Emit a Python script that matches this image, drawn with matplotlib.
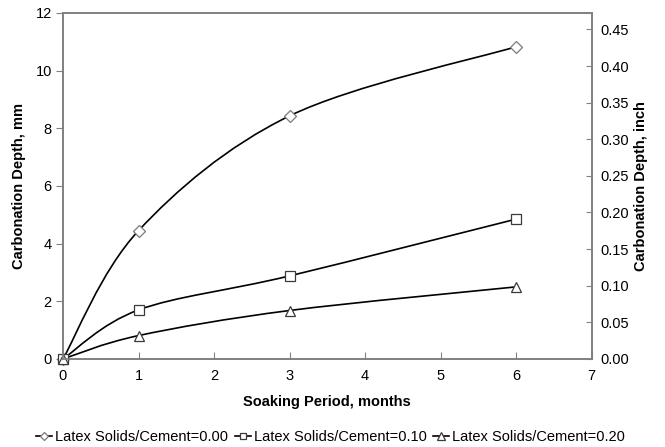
import matplotlib.pyplot as plt
from matplotlib.path import Path
from matplotlib.patches import PathPatch
from matplotlib.lines import Line2D
from matplotlib.ticker import FormatStrFormatter

plt.rcParams['font.family'] = ['Liberation Sans', 'DejaVu Sans']

months = [0, 1, 3, 6]
depth_000 = [0, 4.45, 8.43, 10.83]
depth_010 = [0, 1.70, 2.88, 4.85]
depth_020 = [0, 0.81, 1.68, 2.50]
labels = ["Latex Solids/Cement=0.00", "Latex Solids/Cement=0.10", "Latex Solids/Cement=0.20"]
markers = ["D", "s", "^"]
edge_colors = ["#7a7a7a", "#3a3a3a", "#3a3a3a"]
marker_sizes = [6, 6.5, 7.5]


def smooth_path(xs, ys):
    # catmull-rom style bezier through the points (like excel smoothed lines)
    pts = list(zip(xs, ys))
    n = len(pts)
    verts = [pts[0]]
    codes = [Path.MOVETO]
    for i in range(n - 1):
        p0 = pts[i - 1] if i > 0 else pts[i]
        p1 = pts[i]
        p2 = pts[i + 1]
        p3 = pts[i + 2] if i + 2 < n else pts[i + 1]
        c1 = (p1[0] + (p2[0] - p0[0]) / 6, p1[1] + (p2[1] - p0[1]) / 6)
        c2 = (p2[0] - (p3[0] - p1[0]) / 6, p2[1] - (p3[1] - p1[1]) / 6)
        verts += [c1, c2, p2]
        codes += [Path.CURVE4] * 3
    return Path(verts, codes)


fig = plt.figure(figsize=(6.65, 4.47), dpi=100)
ax = fig.add_axes([0.0947, 0.197, 0.795, 0.774])
ax2 = ax.twinx()

handles = []
for ys, lab, m, ec, ms in zip([depth_000, depth_010, depth_020], labels, markers, edge_colors, marker_sizes):
    ax.add_patch(PathPatch(smooth_path(months, ys), facecolor="none", edgecolor="black", lw=1.2, zorder=2))
    ax.plot(months, ys, linestyle="none", marker=m, markersize=ms, markerfacecolor="white",
            markeredgecolor=ec, markeredgewidth=0.9, zorder=3, clip_on=False)
    handles.append(Line2D([], [], color="black", lw=1.2, marker=m, markersize=ms - 1.5,
                          markerfacecolor="white", markeredgecolor=ec, markeredgewidth=0.9))

ax.set_xlim(0, 7)
ax.set_ylim(0, 12)
ax.set_xticks(range(0, 8))
ax.set_yticks(range(0, 13, 2))
ax2.set_ylim(0, 12 / 25.4)
ax2.set_yticks([i * 0.05 for i in range(10)])
ax2.yaxis.set_major_formatter(FormatStrFormatter("%.2f"))

for a in (ax, ax2):
    for s in a.spines.values():
        s.set_color("#808080")
        s.set_linewidth(1.2)

ax.tick_params(axis="x", direction="in", length=5, color="#808080", labelsize=10.5, pad=7)
ax.tick_params(axis="y", direction="out", length=5, color="#808080", labelsize=10.5, pad=3)
ax2.tick_params(axis="y", direction="in", length=4, color="#808080", labelsize=10.5, pad=6)

ax.set_xlabel("Soaking Period, months", fontsize=10.5, fontweight="bold", labelpad=9)
ax.set_ylabel("Carbonation Depth, mm", fontsize=10.5, fontweight="bold", labelpad=7)
ax2.set_ylabel("Carbonation Depth, inch", fontsize=10.5, fontweight="bold", labelpad=4)

fig.legend(handles, labels, loc="center", bbox_to_anchor=(0.497, 0.022), ncol=3, frameon=False,
           fontsize=10.5, handlelength=1.1, handletextpad=0.2, columnspacing=0.45)

fig.savefig("out.png", dpi=100)
